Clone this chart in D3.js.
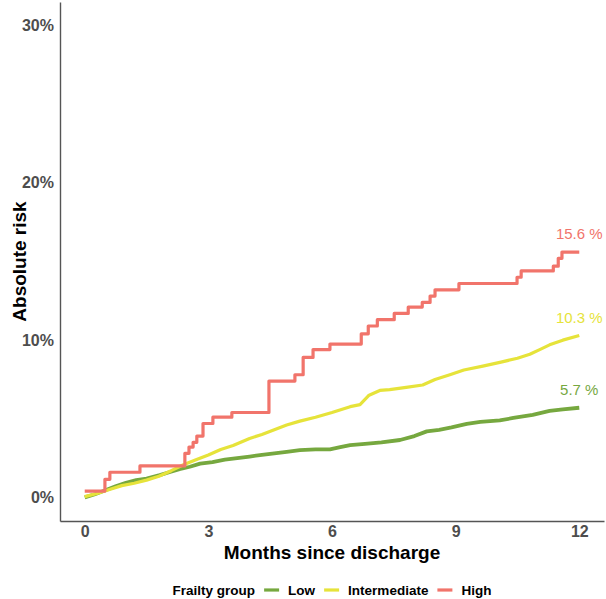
<!DOCTYPE html>
<html>
<head>
<meta charset="utf-8">
<script src="https://cdn.jsdelivr.net/npm/d3@7"></script>
<style>
  body { margin: 0; background: #fff; }
  svg { display: block; font-family: "Liberation Sans", Arial, sans-serif; }
</style>
</head>
<body>
<svg id="chart" width="606" height="599"></svg>
<script>
// Data: [months, absolute risk %]
const lowRisk = [
  [0, 0], [0.25, 0.2], [0.5, 0.45], [0.75, 0.7], [1.0, 0.93], [1.25, 1.1], [1.5, 1.2],
  [1.82, 1.42], [2.05, 1.6], [2.3, 1.8], [2.55, 1.95], [2.8, 2.15], [3.1, 2.25], [3.4, 2.4],
  [3.7, 2.5], [4.0, 2.6], [4.3, 2.7], [4.6, 2.8], [4.9, 2.9], [5.22, 3.0], [5.6, 3.05],
  [5.95, 3.05], [6.2, 3.2], [6.44, 3.33], [6.8, 3.4], [7.2, 3.5], [7.65, 3.65], [8.0, 3.9],
  [8.3, 4.2], [8.6, 4.3], [8.9, 4.45], [9.27, 4.67], [9.6, 4.8], [10.07, 4.9], [10.4, 5.05],
  [10.87, 5.25], [11.28, 5.5], [11.6, 5.6], [12, 5.7]
];
const intermediateRisk = [
  [0, 0.05], [0.3, 0.25], [0.6, 0.5], [0.9, 0.75], [1.2, 0.9], [1.5, 1.1], [1.8, 1.35],
  [2.1, 1.7], [2.38, 2.06], [2.7, 2.4], [3.0, 2.7], [3.3, 3.05], [3.6, 3.3], [4.0, 3.75],
  [4.3, 4.0], [4.6, 4.3], [4.9, 4.6], [5.22, 4.85], [5.6, 5.1], [6.0, 5.4], [6.44, 5.77],
  [6.68, 5.9], [6.9, 6.5], [7.16, 6.8], [7.4, 6.85], [7.8, 7.0], [8.2, 7.15], [8.5, 7.5],
  [8.86, 7.8], [9.2, 8.1], [9.66, 8.35], [10.1, 8.6], [10.5, 8.85], [10.8, 9.1], [11.04, 9.4],
  [11.28, 9.7], [11.6, 10.0], [12, 10.3]
];
const highRisk = [
  [0, 0.4], [0.49, 1.15], [0.61, 1.6], [1.34, 2.0], [2.43, 2.8], [2.53, 3.2], [2.63, 3.5],
  [2.72, 3.9], [2.87, 4.7], [3.11, 5.1], [3.57, 5.4], [4.47, 7.4], [5.1, 7.8], [5.3, 8.9],
  [5.54, 9.4], [5.95, 9.75], [6.71, 10.4], [6.88, 10.9], [7.1, 11.3], [7.51, 11.7],
  [7.85, 12.1], [8.19, 12.4], [8.38, 12.8], [8.5, 13.2], [9.08, 13.6], [10.49, 14.0],
  [10.59, 14.4], [11.37, 14.7], [11.49, 15.2], [11.58, 15.6], [12, 15.6]
];

const groups = ["Low", "Intermediate", "High"];
const colors = ["#76A83F", "#E6E33A", "#F1746B"];
const endLabels = ["5.7 %", "10.3 %", "15.6 %"];
const xTicks = [0, 3, 6, 9, 12];
const yTicks = [0, 10, 20, 30];

const series = [lowRisk, intermediateRisk, highRisk];

const svg = d3.select("#chart");
const margin = { top: 2, right: 2, bottom: 78, left: 60 };
const W = 606, H = 599;

const x = d3.scaleLinear().domain([-0.6, 12.6]).range([margin.left, W - margin.right]);
const y = d3.scaleLinear().domain([-1.5, 31.5]).range([H - margin.bottom, margin.top]);

// axes
const xAxis = svg.append("g")
  .attr("transform", `translate(0,${H - margin.bottom})`)
  .call(d3.axisBottom(x).tickValues(xTicks).tickSize(0).tickPadding(5));
const yAxis = svg.append("g")
  .attr("transform", `translate(${margin.left},0)`)
  .call(d3.axisLeft(y).tickValues(yTicks).tickSize(0).tickPadding(6).tickFormat(d => d + "%"));

[xAxis, yAxis].forEach(g => {
  g.select(".domain").attr("stroke", "#555").attr("stroke-width", 1.4);
  g.selectAll("text")
    .attr("fill", "#4d4d4d")
    .style("font-size", "16px")
    .style("font-weight", "bold")
    .style("font-family", "Liberation Sans, Arial, sans-serif");
});

// lines: low/intermediate have many tiny steps, high has coarse steps
const stepLine = d3.line()
  .x(d => x(d[0]))
  .y(d => y(d[1]))
  .curve(d3.curveStepAfter);
const smoothLine = d3.line()
  .x(d => x(d[0]))
  .y(d => y(d[1]));

series.forEach((s, i) => {
  svg.append("path")
    .datum(s)
    .attr("fill", "none")
    .attr("stroke", colors[i])
    .attr("stroke-width", i === 0 ? 3.8 : 3.2)
    .attr("stroke-linejoin", "round")
    .attr("d", i === 2 ? stepLine(s) : smoothLine(s));
});

// end labels
series.forEach((s, i) => {
  const last = s[s.length - 1];
  svg.append("text")
    .attr("x", x(last[0]))
    .attr("y", y(last[1]) - 18)
    .attr("dy", "0.35em")
    .attr("text-anchor", "middle")
    .attr("fill", colors[i])
    .style("font-size", "15px")
    .text(endLabels[i]);
});

// axis titles
svg.append("text")
  .attr("x", (margin.left + W - margin.right) / 2)
  .attr("y", 552)
  .attr("dy", "0.35em")
  .attr("text-anchor", "middle")
  .style("font-size", "19px")
  .style("font-weight", "bold")
  .text("Months since discharge");

svg.append("text")
  .attr("transform", `translate(19,${(margin.top + H - margin.bottom) / 2}) rotate(-90)`)
  .attr("dy", "0.35em")
  .attr("text-anchor", "middle")
  .style("font-size", "19px")
  .style("font-weight", "bold")
  .text("Absolute risk");

// legend
const legend = svg.append("g");
const title = legend.append("text")
  .attr("dy", "0.35em")
  .style("font-size", "13.5px")
  .style("font-weight", "bold")
  .text("Frailty group");
let cursor = 0;
title.attr("x", cursor);
cursor += title.node().getComputedTextLength() + 9;
groups.forEach((g, i) => {
  legend.append("line")
    .attr("x1", cursor).attr("x2", cursor + 15)
    .attr("y1", 0).attr("y2", 0)
    .attr("stroke", colors[i])
    .attr("stroke-width", 3.2);
  cursor += 15 + 9;
  const t = legend.append("text")
    .attr("x", cursor)
    .attr("dy", "0.35em")
    .style("font-size", "13.5px")
    .style("font-weight", "bold")
    .text(g);
  cursor += t.node().getComputedTextLength() + 9;
});
const legendWidth = cursor - 9;
legend.attr("transform", `translate(${(margin.left + W - margin.right) / 2 - legendWidth / 2},590)`);
</script>
</body>
</html>
